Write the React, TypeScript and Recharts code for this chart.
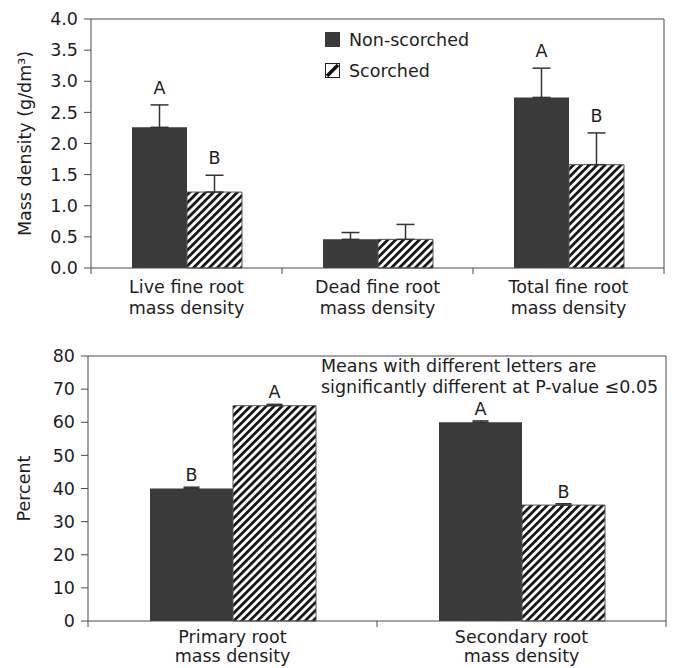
import React from 'react';
import { BarChart, Bar, XAxis, YAxis, ErrorBar, LabelList, Legend, Label, CartesianGrid } from 'recharts';

// top panel: fine root mass density (g/dm3)
const topCategories = ['Live fine root\nmass density', 'Dead fine root\nmass density', 'Total fine root\nmass density'];
const topNonScorched = [2.26, 0.46, 2.74];
const topNonScorchedErr = [0.36, 0.11, 0.47];
const topScorched = [1.22, 0.46, 1.66];
const topScorchedErr = [0.27, 0.24, 0.51];
const topNonScorchedLetters = ['A', '', 'A'];
const topScorchedLetters = ['B', '', 'B'];
const topTicks = [0, 0.5, 1, 1.5, 2, 2.5, 3, 3.5, 4];

// bottom panel: percent of root mass
const bottomCategories = ['Primary root\nmass density', 'Secondary root\nmass density'];
const bottomNonScorched = [40, 60];
const bottomNonScorchedErr = [0.4, 0.4];
const bottomScorched = [65, 35];
const bottomScorchedErr = [0.4, 0.4];
const bottomNonScorchedLetters = ['B', 'A'];
const bottomScorchedLetters = ['A', 'B'];
const bottomTicks = [0, 10, 20, 30, 40, 50, 60, 70, 80];

const FONT = 'DejaVu Sans';
const FS = 17.5;
const TEXT = '#1e1e1e';
const AXIS = '#4a4a4a';
const DARK = '#3a3a3a';

const buildRows = (cats: string[], ns: number[], nsErr: number[], s: number[], sErr: number[], nsL: string[], sL: string[]) =>
  cats.map((name, i) => ({
    name,
    ns: ns[i],
    nsErr: [0, nsErr[i]],
    s: s[i],
    sErr: [0, sErr[i]],
    nsLetter: nsL[i],
    sLetter: sL[i],
  }));

const topRows = buildRows(topCategories, topNonScorched, topNonScorchedErr, topScorched, topScorchedErr, topNonScorchedLetters, topScorchedLetters);
const bottomRows = buildRows(bottomCategories, bottomNonScorched, bottomNonScorchedErr, bottomScorched, bottomScorchedErr, bottomNonScorchedLetters, bottomScorchedLetters);

// letter sits above the error bar cap
const letterContent = (rows: any[], valueKey: string, errKey: string, gap: number) => (props: any) => {
  const { x, y, width, height, index, value } = props;
  if (!value) return null;
  const row = rows[index];
  const perUnit = height / row[valueKey];
  const top = y - row[errKey][1] * perUnit;
  return (
    <text x={x + width / 2} y={top - gap} textAnchor="middle" fontFamily={FONT} fontSize={FS} fill={TEXT}>
      {value}
    </text>
  );
};

const categoryTick = (half: number, offsets: number[]) => (props: any) => {
  const { x, y, payload, index } = props;
  const lines = String(payload.value).split('\n');
  return (
    <g>
      {index === 0 && <line x1={x - half} x2={x - half} y1={y} y2={y + 6} stroke={AXIS} />}
      <line x1={x + half} x2={x + half} y1={y} y2={y + 6} stroke={AXIS} />
      {lines.map((t, i) => (
        <text key={i} x={x} y={y + offsets[i]} textAnchor="middle" fontFamily={FONT} fontSize={FS} fill={TEXT}>
          {t}
        </text>
      ))}
    </g>
  );
};

const yTitle = (text: string, dx: number) => (props: any) => {
  const { viewBox } = props;
  const x = viewBox.x + dx;
  const y = viewBox.y + viewBox.height / 2;
  return (
    <text x={x} y={y} transform={`rotate(-90, ${x}, ${y})`} textAnchor="middle" dominantBaseline="central" fontFamily={FONT} fontSize={FS} fill={TEXT}>
      {text}
    </text>
  );
};

// frame: top edge and right edge of the plot area
const frameTop = ({ offset }: any) => [offset.top];
const frameRight = ({ offset }: any) => [offset.left + offset.width];

const Hatch = ({ id }: { id: string }) => (
  <pattern id={id} patternUnits="userSpaceOnUse" width={5.6} height={5.6} patternTransform="rotate(45)">
    <rect width={5.6} height={5.6} fill="#fff" />
    <rect width={2.7} height={5.6} fill="#111" />
  </pattern>
);

const legendContent = () => (
  <div style={{ fontFamily: FONT, fontSize: FS, color: TEXT }}>
    <div style={{ display: 'flex', alignItems: 'center', height: 31 }}>
      <svg width={15} height={15} style={{ marginRight: 9 }}>
        <rect x={0} y={0} width={15} height={15} fill={DARK} />
      </svg>
      Non-scorched
    </div>
    <div style={{ display: 'flex', alignItems: 'center', height: 31 }}>
      <svg width={15} height={15} style={{ marginRight: 9 }}>
        <rect x={0.5} y={0.5} width={14} height={14} fill="#fff" stroke="#222" />
        <line x1={2} y1={13} x2={13} y2={2} stroke="#111" strokeWidth={3.5} />
      </svg>
      Scorched
    </div>
  </div>
);

export default function App() {
  const topW = 675;
  const topH = 330;
  const topMargin = { top: 19, right: 11, bottom: 0, left: 0 };
  const topYW = 91;
  const topHalf = (topW - topMargin.right - topYW) / topCategories.length / 2;

  const botW = 675;
  const botH = 338;
  const botMargin = { top: 26, right: 9, bottom: 0, left: 0 };
  const botYW = 88;
  const botHalf = (botW - botMargin.right - botYW) / bottomCategories.length / 2;

  return (
    <div style={{ position: 'absolute', left: 0, top: 0, width: 675, height: 668, background: '#fff', fontFamily: FONT }}>
      <BarChart width={topW} height={topH} data={topRows} margin={topMargin} barGap={0} barSize={55}>
        <defs>
          <Hatch id="hatchTop" />
        </defs>
        <CartesianGrid stroke={AXIS} horizontalCoordinatesGenerator={frameTop} verticalCoordinatesGenerator={frameRight} syncWithTicks={false} />
        <XAxis dataKey="name" height={62} interval={0} tickLine={false} tickSize={0} tickMargin={0} axisLine={{ stroke: AXIS }} tick={categoryTick(topHalf, [25, 45.5])} />
        <YAxis width={topYW} domain={[0, 4]} ticks={topTicks} interval={0} tickSize={7} tickMargin={6} axisLine={{ stroke: AXIS }} tickLine={{ stroke: AXIS }}
          tick={{ fontFamily: FONT, fontSize: FS, fill: TEXT }} tickFormatter={(v: number) => v.toFixed(1)}>
          <Label content={yTitle('Mass density (g/dm³)', 25)} />
        </YAxis>
        <Legend verticalAlign="middle" align="center" layout="horizontal" content={legendContent} wrapperStyle={{ left: 325, top: 24, width: 200 }} />
        <Bar dataKey="ns" name="Non-scorched" fill={DARK} isAnimationActive={false}>
          <ErrorBar dataKey="nsErr" width={9} stroke="#333" direction="y" />
          <LabelList dataKey="nsLetter" content={letterContent(topRows, 'ns', 'nsErr', 11)} />
        </Bar>
        <Bar dataKey="s" name="Scorched" fill="url(#hatchTop)" stroke="#555" strokeWidth={1} isAnimationActive={false}>
          <ErrorBar dataKey="sErr" width={9} stroke="#333" direction="y" />
          <LabelList dataKey="sLetter" content={letterContent(topRows, 's', 'sErr', 11)} />
        </Bar>
      </BarChart>

      <BarChart width={botW} height={botH} data={bottomRows} margin={botMargin} barGap={0} barSize={83}>
        <defs>
          <Hatch id="hatchBottom" />
        </defs>
        <CartesianGrid stroke={AXIS} horizontalCoordinatesGenerator={frameTop} verticalCoordinatesGenerator={frameRight} syncWithTicks={false} />
        <XAxis dataKey="name" height={47} interval={0} tickLine={false} tickSize={0} tickMargin={0} axisLine={{ stroke: AXIS }} tick={categoryTick(botHalf, [21.5, 40.5])} />
        <YAxis width={botYW} domain={[0, 80]} ticks={bottomTicks} interval={0} tickSize={7} tickMargin={6} axisLine={{ stroke: AXIS }} tickLine={{ stroke: AXIS }}
          tick={{ fontFamily: FONT, fontSize: FS, fill: TEXT }}>
          <Label content={yTitle('Percent', 24)} />
        </YAxis>
        <Bar dataKey="ns" name="Non-scorched" fill={DARK} isAnimationActive={false}>
          <ErrorBar dataKey="nsErr" width={8} stroke="#333" direction="y" />
          <LabelList dataKey="nsLetter" content={letterContent(bottomRows, 'ns', 'nsErr', 6)} />
        </Bar>
        <Bar dataKey="s" name="Scorched" fill="url(#hatchBottom)" stroke="#555" strokeWidth={1} isAnimationActive={false}>
          <ErrorBar dataKey="sErr" width={8} stroke="#333" direction="y" />
          <LabelList dataKey="sLetter" content={letterContent(bottomRows, 's', 'sErr', 6)} />
        </Bar>
        <text x={321} y={42} fontFamily={FONT} fontSize={FS} fill={TEXT}>
          <tspan x={321} dy={0}>Means with different letters are</tspan>
          <tspan x={321} dy={21}>significantly different at P-value ≤0.05</tspan>
        </text>
      </BarChart>
    </div>
  );
}
